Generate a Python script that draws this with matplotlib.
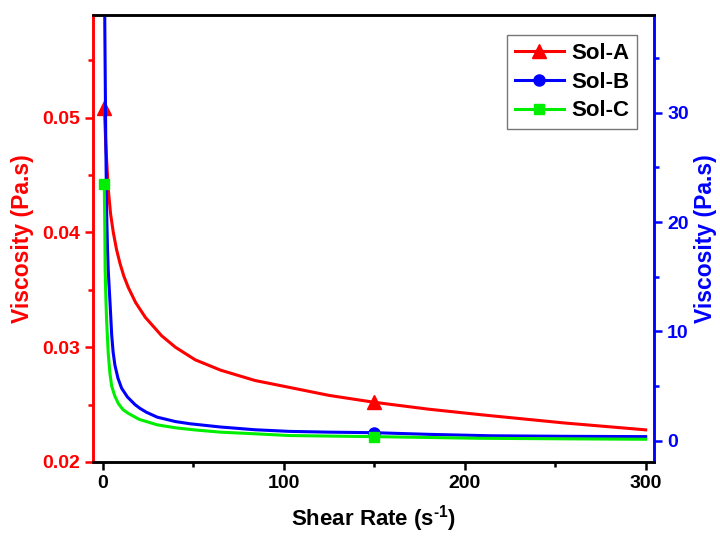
import matplotlib
matplotlib.use('Agg')
import matplotlib.pyplot as plt
from matplotlib.ticker import MultipleLocator

# Sol-A, left axis (Pa.s)
sol_a_x: list[float] = [0.8, 1.5, 2.9, 4.2, 5.7, 7.5, 9.4, 11.5, 14, 18, 23.4, 32.4, 40, 51, 65, 84,
                        103, 125, 150, 180, 210, 255, 300]
sol_a_y: list[float] = [0.0508, 0.0478, 0.0438, 0.0416, 0.0400, 0.0385, 0.0373, 0.0362, 0.0352, 0.0339,
                        0.0326, 0.0310, 0.0300, 0.0289, 0.0280, 0.0271, 0.0265, 0.0258, 0.0252, 0.0246,
                        0.0241, 0.0234, 0.0228]

# Sol-B, right axis (Pa.s)
sol_b_x: list[float] = [0.5, 1.0, 1.5, 2.0, 2.5, 2.9, 3.9, 4.8, 5.6, 6.6, 8.3, 10.3, 13.5, 17.7, 20.5,
                        24, 30, 40, 48, 65, 84, 103, 125, 150, 180, 214, 255, 300]
sol_b_y: list[float] = [60.0, 38.0, 28.0, 21.0, 17.5, 15.6, 12.6, 9.7, 8.1, 6.9, 5.7, 4.8, 4.0, 3.3, 2.95,
                        2.6, 2.15, 1.75, 1.55, 1.25, 1.0, 0.85, 0.78, 0.73, 0.58, 0.45, 0.40, 0.37]

# Sol-C, right axis (Pa.s)
sol_c_x: list[float] = [0.7, 1.0, 1.2, 1.6, 2.0, 2.9, 3.8, 4.8, 6.5, 8.5, 11, 14, 20, 30, 40, 51, 65,
                        84, 103, 150, 208, 255, 300]
sol_c_y: list[float] = [23.5, 19.5, 15.6, 13.0, 11.0, 8.0, 6.2, 5.0, 4.1, 3.4, 2.85, 2.5, 1.95, 1.45,
                        1.18, 0.98, 0.78, 0.63, 0.47, 0.37, 0.22, 0.17, 0.13]

plt.rcParams['font.family'] = ['Liberation Sans', 'DejaVu Sans']
plt.rcParams['font.weight'] = 'bold'
plt.rcParams['mathtext.fontset'] = 'custom'
plt.rcParams['mathtext.rm'] = 'Liberation Sans:bold'
plt.rcParams['mathtext.bf'] = 'Liberation Sans:bold'


def mark_idx(xs: list[float]) -> list[int]:
    return [0, xs.index(150)]


fig = plt.figure(figsize=(7.2, 5.36), dpi=100)
ax = fig.add_axes([93.4 / 720, 1 - 462 / 536, (654 - 93.4) / 720, (462 - 15.4) / 536])
ax2 = ax.twinx()

la, = ax.plot(sol_a_x, sol_a_y, color='red', lw=2.2, marker='^', ms=10, markevery=mark_idx(sol_a_x), label='Sol-A')
lb, = ax2.plot(sol_b_x, sol_b_y, color='blue', lw=2.2, marker='o', ms=8, markevery=mark_idx(sol_b_x), label='Sol-B')
lc, = ax2.plot(sol_c_x, sol_c_y, color='#00ee00', lw=2.2, marker='s', ms=7.5, markevery=mark_idx(sol_c_x), label='Sol-C')

ax.set_xlim(-5.3, 304.6)
ax.set_ylim(0.02, 0.0589)
ax2.set_ylim(-1.95, 38.9)

ax.xaxis.set_major_locator(MultipleLocator(100))
ax.xaxis.set_minor_locator(MultipleLocator(50))
ax.yaxis.set_major_locator(MultipleLocator(0.01))
ax.yaxis.set_minor_locator(MultipleLocator(0.005))
ax2.yaxis.set_major_locator(MultipleLocator(10))
ax2.yaxis.set_minor_locator(MultipleLocator(5))
ax.yaxis.set_major_formatter(lambda v, p: f'{v:.2f}')

for a in (ax, ax2):
    for s in a.spines.values():
        s.set_linewidth(1.8)
ax.spines['left'].set_color('red')
ax2.spines['left'].set_color('red')
ax2.spines['right'].set_color('blue')
ax.spines['right'].set_color('blue')

ax.tick_params(axis='x', which='major', direction='out', length=6, width=1.8, labelsize=14, colors='black')
ax.tick_params(axis='x', which='minor', direction='out', length=3.5, width=1.8)
ax.tick_params(axis='y', which='major', direction='out', length=6, width=1.8, labelsize=14, colors='red')
ax.tick_params(axis='y', which='minor', direction='out', length=3.5, width=1.8, colors='red')
ax2.tick_params(axis='y', which='major', direction='out', length=6, width=1.8, labelsize=14, colors='blue')
ax2.tick_params(axis='y', which='minor', direction='out', length=3.5, width=1.8, colors='blue')

ax.set_xlabel(r'Shear Rate (s$^{\text{-1}}$)', fontsize=16, fontweight='bold', labelpad=8)
ax.set_ylabel('Viscosity (Pa.s)', fontsize=16.5, fontweight='bold', color='red', labelpad=6)
ax2.set_ylabel('Viscosity (Pa.s)', fontsize=16.5, fontweight='bold', color='blue', labelpad=4)

leg = ax2.legend(handles=[la, lb, lc], loc='upper right', bbox_to_anchor=(0.97, 0.956),
                 frameon=True, fancybox=False, edgecolor='#555555',
                 handlelength=2.2, handletextpad=0.35, borderpad=0.35, labelspacing=0.35,
                 borderaxespad=0, prop={'weight': 'bold', 'size': 16})
leg.get_frame().set_linewidth(1.0)

fig.savefig('out.png', dpi=100)
